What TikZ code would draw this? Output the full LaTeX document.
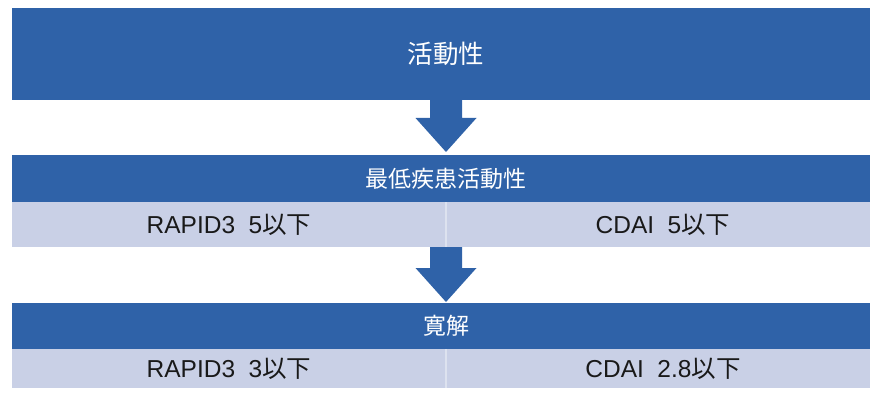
\documentclass[tikz,border=0pt]{standalone}
\usepackage{fontspec}
\setmainfont{Liberation Sans}
\newfontfamily\cjk{Noto Sans CJK JP}
\usetikzlibrary{calc}
\definecolor{bandblue}{HTML}{2F62A8}
\definecolor{rowgray}{HTML}{C9D0E6}
\definecolor{divline}{HTML}{DDE2EF}
\begin{document}
\begin{tikzpicture}[x=1pt,y=-1pt,
  band/.style={fill=bandblue, text=white, inner sep=0pt, outer sep=0pt,
    minimum width=868pt, font=\cjk\fontsize{23}{27}\selectfont},
  rowbox/.style={fill=rowgray, text=black!90, inner sep=0pt, outer sep=0pt,
    minimum width=434pt, font=\fontsize{24.5}{28}\selectfont},
  blockarrow/.style={fill=bandblue}]
\useasboundingbox (0,0) rectangle (870,393);
\begin{scope}
\clip (0,0) rectangle (870,393);
% bands
\node[band, minimum height=92pt, font=\cjk\fontsize{25.5}{29}\selectfont] (act) at (446,54) {活動性};
\node[band, minimum height=47pt] (low) at (446,178.5) {最低疾患活動性};
\node[rowbox, minimum height=45pt] (r2l) at (229,224.5) {RAPID3\hspace{0.55em}5{\cjk 以下}};
\node[rowbox, minimum height=45pt] (r2r) at (663,224.5) {CDAI\hspace{0.55em}5{\cjk 以下}};
\node[band, minimum height=46pt] (rem) at (446,326) {寛解};
\node[rowbox, minimum height=39pt] (r3l) at (229,368.5) {RAPID3\hspace{0.55em}3{\cjk 以下}};
\node[rowbox, minimum height=39pt] (r3r) at (663,368.5) {CDAI\hspace{0.55em}2.8{\cjk 以下}};
% dividers
\draw[divline, line width=1.5pt] (r2l.north east) -- (r2l.south east);
\draw[divline, line width=1.5pt] (r3l.north east) -- (r3l.south east);
% arrows
\fill[blockarrow] ($(act.south)+(-16,-1)$) -- ($(act.south)+(16,-1)$)
  -- ($(act.south)+(16,18)$) -- ($(act.south)+(30.5,18)$)
  -- ($(low.north)+(0,-3)$)
  -- ($(act.south)+(-30.5,18)$) -- ($(act.south)+(-16,18)$) -- cycle;
\fill[blockarrow] ($(r2l.south east)+(-16,0)$) -- ($(r2l.south east)+(16,0)$)
  -- ($(r2l.south east)+(16,21)$) -- ($(r2l.south east)+(30.5,21)$)
  -- ($(rem.north)+(0,-1)$)
  -- ($(r2l.south east)+(-30.5,21)$) -- ($(r2l.south east)+(-16,21)$) -- cycle;
\end{scope}
\end{tikzpicture}
\end{document}
